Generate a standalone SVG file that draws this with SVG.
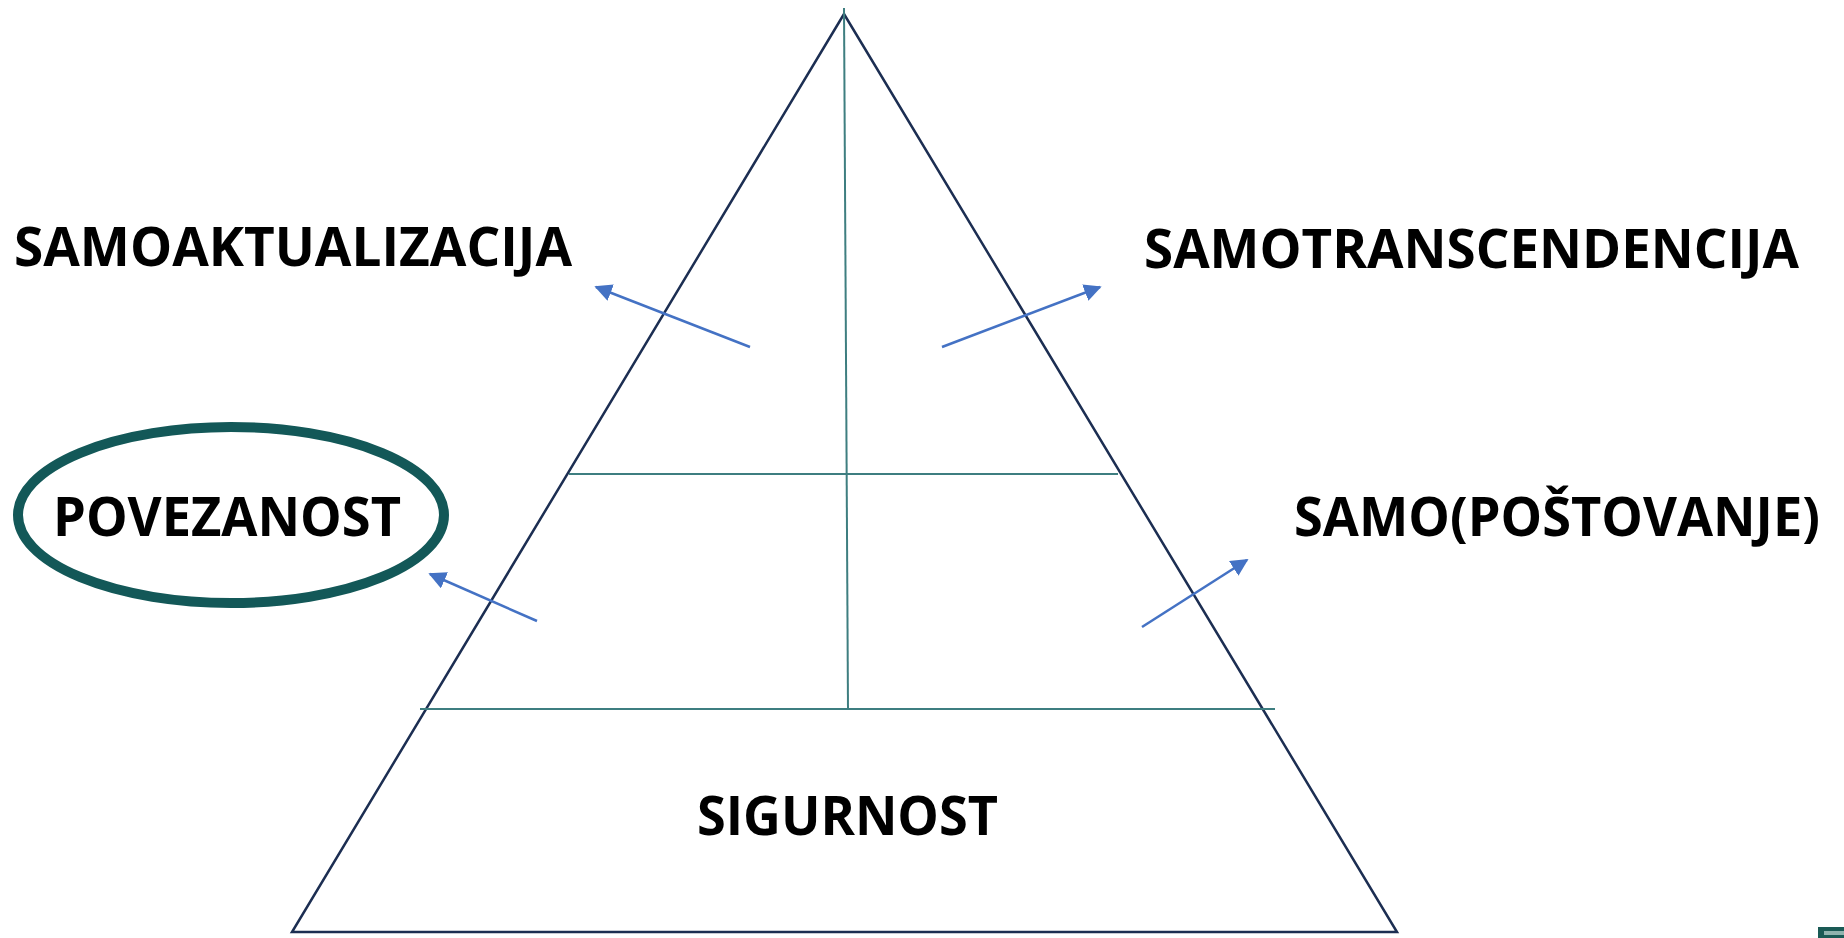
<svg xmlns="http://www.w3.org/2000/svg" width="1844" height="938" viewBox="0 0 1844 938">
<style>
.lbl{font-family:"Open Sans","Liberation Sans",sans-serif;font-weight:bold;font-size:54px;fill:#000}
.edge{fill:none;stroke:#1C2E52;stroke-width:2.5}
.div{stroke:#3E7E80;stroke-width:2}
.arrow{stroke:#4472C4;stroke-width:2.5;fill:none;marker-end:url(#ah)}
</style>
<defs>
<marker id="ah" viewBox="0 0 10 10" refX="9" refY="5" markerWidth="7" markerHeight="7" markerUnits="strokeWidth" orient="auto">
<path d="M0,0 L10,5 L0,10 z" fill="#4472C4"/>
</marker>
</defs>
<rect width="1844" height="938" fill="#fff"/>
<g id="pyramid">
<polygon class="edge" points="844,14 292,932 1397,932"/>
<line class="div" x1="569" y1="474" x2="1118" y2="474"/>
<line class="div" x1="420" y1="709" x2="1275" y2="709"/>
<line class="div" x1="844" y1="8" x2="848" y2="709" stroke="#1A5E60"/>
</g>
<g id="connectors">
<line class="arrow" x1="750" y1="347" x2="596" y2="287"/>
<line class="arrow" x1="942" y1="347" x2="1100" y2="287"/>
<line class="arrow" x1="537" y1="621" x2="430" y2="574"/>
<line class="arrow" x1="1142" y1="627" x2="1247" y2="560"/>
</g>
<g id="node-samoaktualizacija"><text class="lbl" x="14" y="266" textLength="558" lengthAdjust="spacingAndGlyphs">SAMOAKTUALIZACIJA</text></g>
<g id="node-samotranscendencija"><text class="lbl" x="1144" y="268" textLength="655" lengthAdjust="spacingAndGlyphs">SAMOTRANSCENDENCIJA</text></g>
<g id="node-povezanost">
<ellipse cx="231" cy="515" rx="213" ry="88" fill="none" stroke="#135858" stroke-width="10"/>
<text class="lbl" x="53" y="536" textLength="348" lengthAdjust="spacingAndGlyphs">POVEZANOST</text>
</g>
<g id="node-samopostovanje"><text class="lbl" x="1294" y="536" textLength="526" lengthAdjust="spacingAndGlyphs">SAMO(POŠTOVANJE)</text></g>
<g id="node-sigurnost"><text class="lbl" x="697" y="835" textLength="301" lengthAdjust="spacingAndGlyphs">SIGURNOST</text></g>
<rect x="1818" y="927" width="26" height="11" fill="#1A5A55"/>
<rect x="1824" y="931" width="20" height="4" fill="#8FB3AE"/>
</svg>
